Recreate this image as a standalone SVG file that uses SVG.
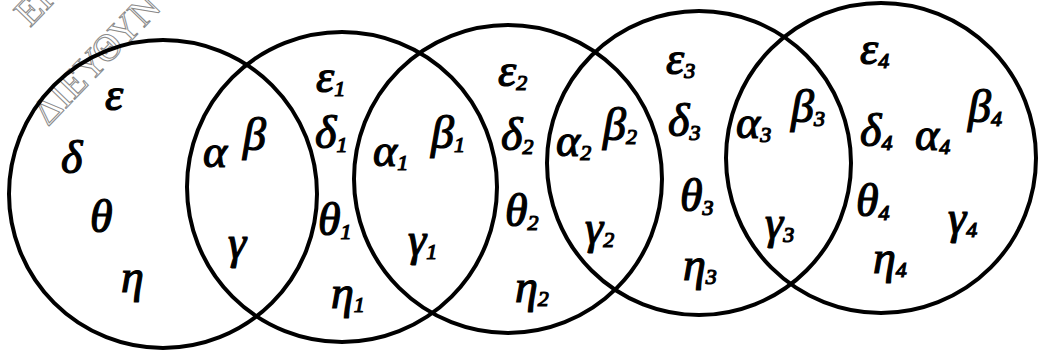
<svg xmlns="http://www.w3.org/2000/svg" width="1046" height="351" viewBox="0 0 1046 351">
<style>
.c{fill:none;stroke:#000;stroke-width:4}
.t{font-family:"Liberation Serif","DejaVu Serif",serif;font-style:italic;font-size:46px;fill:#000;stroke:#000;stroke-width:1.2}
.s{font-size:22px}
.w{font-family:"Liberation Serif","DejaVu Serif",serif;font-size:38px;fill:none;stroke:#8a8a8a;stroke-width:1}
</style>
<rect width="1046" height="351" fill="#fff"/>
<g id="watermark">
<text class="w" transform="translate(30,28) rotate(-46)">ΕΠ</text>
<text class="w" transform="translate(48,127) rotate(-46)">ΔΙΕΥΘΥΝ</text>
</g>
<g id="set0">
<circle class="c" cx="163" cy="194" r="154"/>
<text class="t" x="105" y="110">ε</text>
<text class="t" x="61" y="173">δ</text>
<text class="t" x="90" y="232">θ</text>
<text class="t" x="121" y="292">η</text>
</g>
<g id="set1">
<circle class="c" cx="342" cy="187" r="155"/>
<text class="t" x="203" y="167">α</text>
<text class="t" x="243" y="150">β</text>
<text class="t" x="228" y="258">γ</text>
<text class="t" x="316" y="92">ε<tspan class="s" dy="4">1</tspan></text>
<text class="t" x="315" y="148">δ<tspan class="s" dy="4">1</tspan></text>
<text class="t" x="318" y="235">θ<tspan class="s" dy="4">1</tspan></text>
<text class="t" x="331" y="308">η<tspan class="s" dy="4">1</tspan></text>
</g>
<g id="set2">
<circle class="c" cx="508" cy="179" r="154"/>
<text class="t" x="373" y="166">α<tspan class="s" dy="4">1</tspan></text>
<text class="t" x="431" y="148">β<tspan class="s" dy="4">1</tspan></text>
<text class="t" x="408" y="255">γ<tspan class="s" dy="4">1</tspan></text>
<text class="t" x="498" y="86">ε<tspan class="s" dy="4">2</tspan></text>
<text class="t" x="501" y="150">δ<tspan class="s" dy="4">2</tspan></text>
<text class="t" x="505" y="226">θ<tspan class="s" dy="4">2</tspan></text>
<text class="t" x="515" y="302">η<tspan class="s" dy="4">2</tspan></text>
</g>
<g id="set3">
<circle class="c" cx="699" cy="163" r="152"/>
<text class="t" x="556" y="156">α<tspan class="s" dy="4">2</tspan></text>
<text class="t" x="603" y="140">β<tspan class="s" dy="4">2</tspan></text>
<text class="t" x="585" y="243">γ<tspan class="s" dy="4">2</tspan></text>
<text class="t" x="666" y="74">ε<tspan class="s" dy="4">3</tspan></text>
<text class="t" x="668" y="136">δ<tspan class="s" dy="4">3</tspan></text>
<text class="t" x="680" y="211">θ<tspan class="s" dy="4">3</tspan></text>
<text class="t" x="683" y="280">η<tspan class="s" dy="4">3</tspan></text>
</g>
<g id="set4">
<circle class="c" cx="881" cy="158" r="155"/>
<text class="t" x="736" y="138">α<tspan class="s" dy="4">3</tspan></text>
<text class="t" x="791" y="122">β<tspan class="s" dy="4">3</tspan></text>
<text class="t" x="765" y="238">γ<tspan class="s" dy="4">3</tspan></text>
<text class="t" x="860" y="64">ε<tspan class="s" dy="4">4</tspan></text>
<text class="t" x="860" y="146">δ<tspan class="s" dy="4">4</tspan></text>
<text class="t" x="915" y="150">α<tspan class="s" dy="4">4</tspan></text>
<text class="t" x="968" y="122">β<tspan class="s" dy="4">4</tspan></text>
<text class="t" x="856" y="216">θ<tspan class="s" dy="4">4</tspan></text>
<text class="t" x="948" y="233">γ<tspan class="s" dy="4">4</tspan></text>
<text class="t" x="873" y="273">η<tspan class="s" dy="4">4</tspan></text>
</g>
</svg>
